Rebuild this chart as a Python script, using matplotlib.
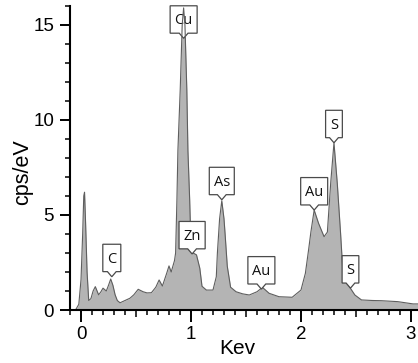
#EDS spectrum plot (cps/eV vs Kev) with peak callouts

import numpy as np
import matplotlib
matplotlib.use('Agg')
import matplotlib.pyplot as plt
from matplotlib.path import Path
from matplotlib.ticker import MultipleLocator

energy = [-0.10, -0.05, -0.02, 0.00, 0.015, 0.025, 0.032, 0.042, 0.055, 0.07, 0.09, 0.11,
          0.13, 0.16, 0.18, 0.20, 0.23, 0.25, 0.27, 0.29, 0.31, 0.33, 0.355, 0.40, 0.445,
          0.48, 0.52, 0.565, 0.60, 0.64, 0.68, 0.71, 0.74, 0.78, 0.80, 0.82, 0.85, 0.86,
          0.872, 0.881, 0.902, 0.92, 0.933, 0.945, 0.962, 0.972, 0.988, 1.00, 1.02, 1.05,
          1.08, 1.10, 1.14, 1.20, 1.23, 1.24, 1.26, 1.28, 1.30, 1.31, 1.33, 1.36, 1.41,
          1.47, 1.53, 1.60, 1.65, 1.71, 1.80, 1.92, 2.00, 2.04, 2.07, 2.09, 2.12, 2.16,
          2.21, 2.24, 2.27, 2.30, 2.33, 2.36, 2.38, 2.42, 2.45, 2.49, 2.55, 2.65, 2.73,
          2.88, 3.02, 3.07]
counts = [0.0, 0.0, 0.3, 1.6, 4.0, 6.0, 6.2, 4.5, 2.0, 0.5, 0.6, 1.0,
          1.23, 0.8, 0.95, 1.15, 1.0, 1.3, 1.63, 1.3, 0.8, 0.5, 0.38, 0.5, 0.62,
          0.8, 1.09, 0.96, 0.9, 0.91, 1.2, 1.58, 1.26, 1.95, 2.32, 2.0, 2.6, 3.0,
          5.8, 8.4, 11.6, 15.0, 15.9, 15.0, 11.6, 8.4, 5.8, 3.3, 3.0, 2.9,
          2.2, 1.25, 1.05, 1.05, 1.75, 3.0, 4.8, 5.75, 4.8, 4.0, 2.3, 1.2, 0.96,
          0.85, 0.79, 0.96, 1.19, 0.88, 0.70, 0.67, 1.05, 1.93, 3.2, 4.1, 5.26, 4.56,
          3.86, 4.1, 6.67, 8.8, 6.67, 4.04, 2.1, 1.4, 1.14, 0.79, 0.53, 0.5, 0.49,
          0.44, 0.32, 0.32]

peak_names = ['C', 'Cu', 'Zn', 'As', 'Au', 'Au', 'S', 'S']
peak_x = [0.28, 0.933, 1.01, 1.28, 1.64, 2.12, 2.30, 2.45]
peak_y = [1.75, 14.3, 2.95, 5.8, 1.1, 5.26, 8.8, 1.15]

plt.rcParams['font.family'] = ['Liberation Sans', 'DejaVu Sans']

def callout(x0, y0, width, height, mutation_size):
    # white label box with a small pointer under it
    px = 0.3 * mutation_size
    ptop = 0.5 * mutation_size
    pbot = 0.35 * mutation_size
    nw = 0.3 * mutation_size
    nh = 0.35 * mutation_size
    left, right = x0 - px, x0 + width + px
    bottom, top = y0 - pbot, y0 + height + ptop
    xc = x0 + width / 2
    verts = [(left, bottom), (xc - nw, bottom), (xc, bottom - nh), (xc + nw, bottom),
             (right, bottom), (right, top), (left, top), (left, bottom)]
    codes = [Path.MOVETO] + [Path.LINETO] * 6 + [Path.CLOSEPOLY]
    return Path(verts, codes)

fig = plt.figure(figsize=(4.18, 3.63), dpi=100)
ax = fig.add_axes([0.1675, 0.146, 0.8325, 0.8375])

ax.fill_between(energy, counts, 0, color='#b4b4b4', linewidth=0, zorder=2)
ax.plot(energy, counts, color='#5e5e5e', linewidth=0.8, zorder=2.5)

label_size = 10.5
for name, x, y in zip(peak_names, peak_x, peak_y):
    # Cu box sits on the peak, the outline runs over it
    z = 2.2 if name == 'Cu' else 4
    ax.annotate(name, xy=(x, y), xytext=(0, 0.7 * label_size), textcoords='offset points',
                ha='center', va='bottom', fontsize=label_size, family=['Open Sans', 'DejaVu Sans'],
                color='#111111', zorder=z,
                bbox=dict(boxstyle=callout, fc='white', ec='#4a4a4a', lw=0.9))

ax.set_xlim(-0.1, 3.064)
ax.set_ylim(0, 16)

ax.spines['top'].set_visible(False)
ax.spines['right'].set_visible(False)
ax.spines['left'].set_linewidth(1.5)
ax.spines['bottom'].set_linewidth(1.5)

ax.xaxis.set_major_locator(MultipleLocator(1))
ax.xaxis.set_minor_locator(MultipleLocator(0.1))
ax.yaxis.set_major_locator(MultipleLocator(5))
ax.yaxis.set_minor_locator(MultipleLocator(1))

ax.tick_params(axis='x', which='major', length=8.6, width=1.4, labelsize=13.5, pad=3)
ax.tick_params(axis='x', which='minor', length=3.6, width=1.1)
ax.tick_params(axis='y', which='major', length=7.5, width=1.4, labelsize=13.5, pad=4)
ax.tick_params(axis='y', which='minor', length=3.6, width=1.1)

ax.set_xlabel('Kev', fontsize=15)
ax.set_ylabel('cps/eV', fontsize=15.5)
ax.xaxis.set_label_coords(0.481, -0.097)
ax.yaxis.set_label_coords(-0.106, 0.454)

# half-unit ticks a bit longer
fig.canvas.draw()
for tick, loc in zip(ax.xaxis.get_minor_ticks(), ax.xaxis.get_minorticklocs()):
    if np.isclose(loc % 1, 0.5):
        tick.tick1line.set_markersize(5.2)

plt.savefig('out.png', dpi=100)
